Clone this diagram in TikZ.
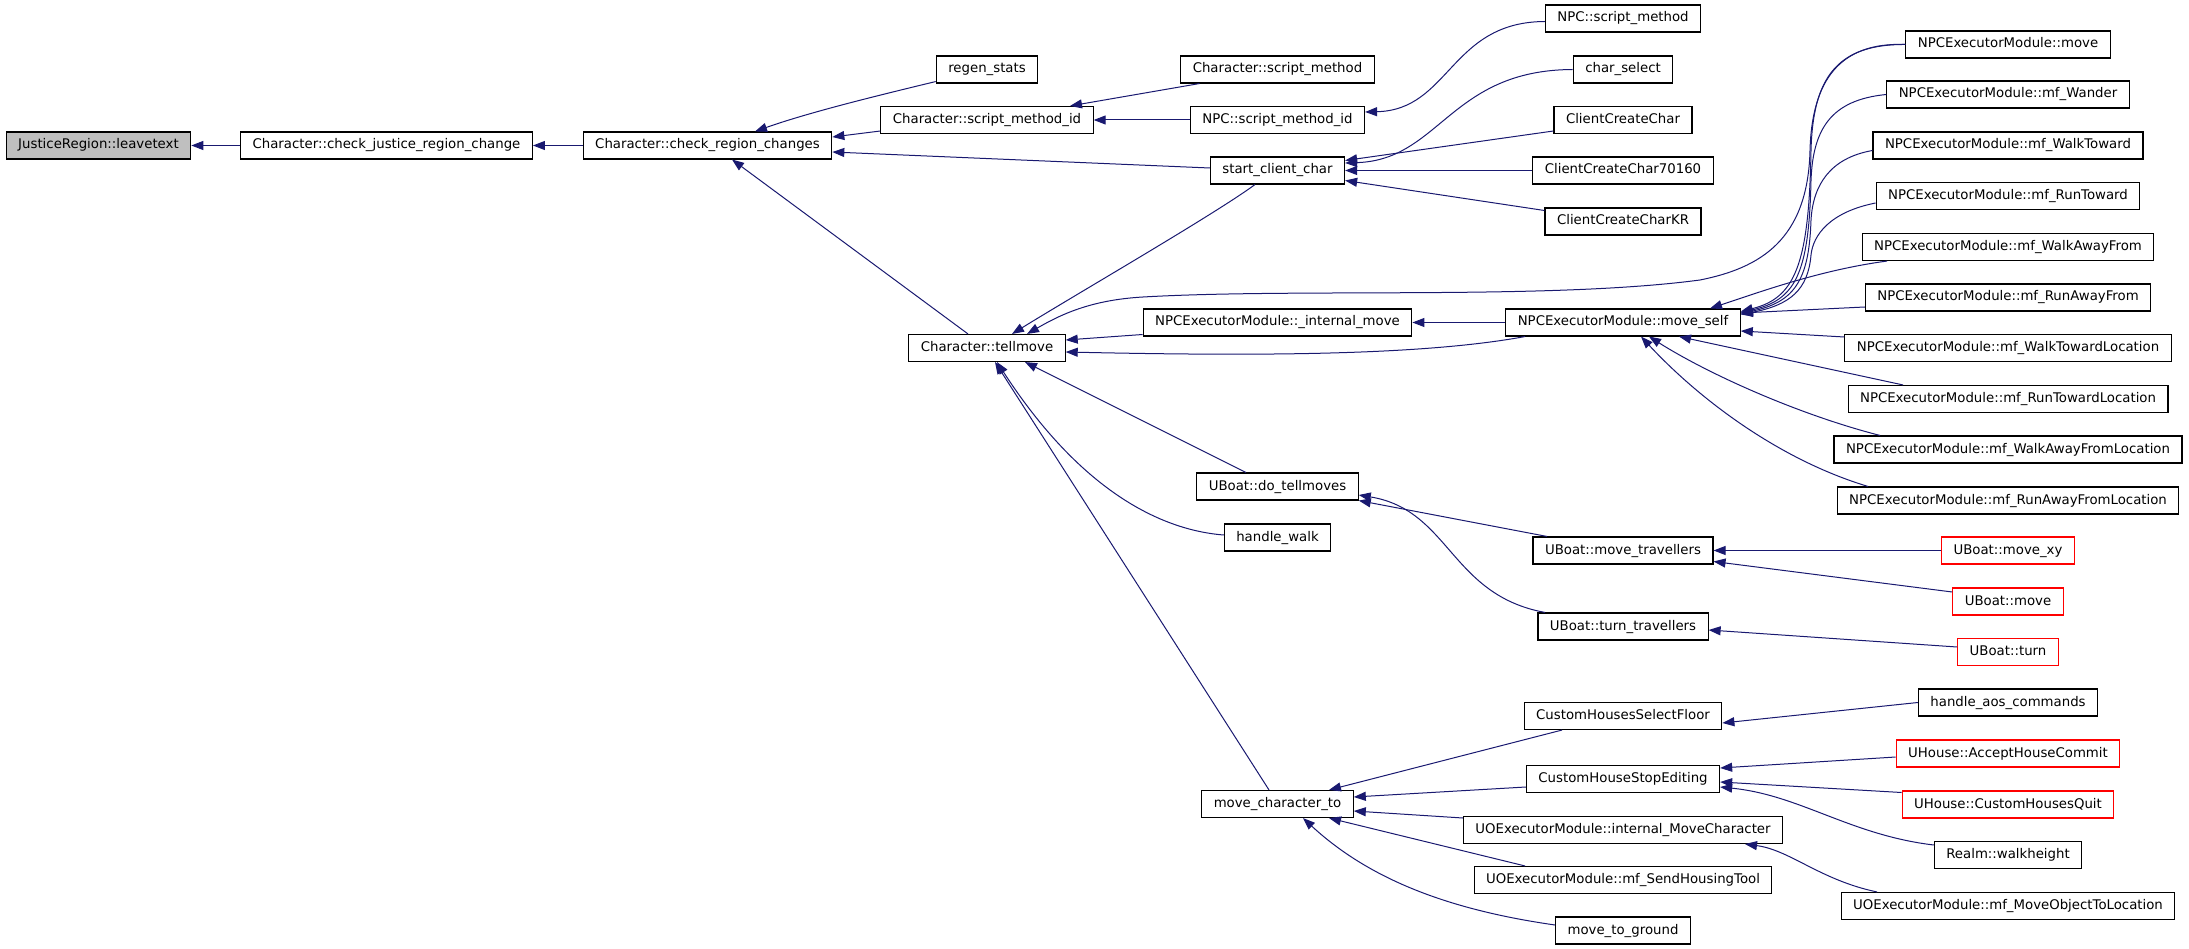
\documentclass[tikz,border=0pt]{standalone}
\usepackage{fontspec}
\setmainfont{DejaVu Sans}
\usetikzlibrary{arrows.meta}
\definecolor{edgeblue}{HTML}{191970}
\definecolor{nodegray}{HTML}{BFBFBF}
\definecolor{nodered}{HTML}{FF0000}
\tikzset{
  box/.style={draw=black, line width=1.1pt, fill=white, minimum height=27pt, inner xsep=12pt, inner ysep=0pt,
    font=\fontsize{13.3}{16}\selectfont, text height=10pt, text depth=3pt},
  redbox/.style={box, draw=nodered},
  graybox/.style={box, fill=nodegray},
  edge/.style={draw=edgeblue, line width=1pt, -{Triangle[length=12pt,width=9pt]}, fill=none}
}
\begin{document}
\begin{tikzpicture}[x=1pt,y=-1pt]
\useasboundingbox (0,0) rectangle (2189,949);
% rank 0-2
\node[graybox] (lt) at (98.5,145.5) {JusticeRegion::leavetext};
\node[box] (cjrc) at (386.5,145.5) {Character::check\_justice\_region\_change};
\node[box] (crc) at (707.5,145.5) {Character::check\_region\_changes};
% rank 3
\node[box] (rs) at (987,69.5) {regen\_stats};
\node[box] (csmi) at (987,120) {Character::script\_method\_id};
\node[box] (tm) at (987,348) {Character::tellmove};
% rank 4
\node[box] (csm) at (1277.5,69.5) {Character::script\_method};
\node[box] (nsmi) at (1277.5,120) {NPC::script\_method\_id};
\node[box] (scc) at (1277.5,170.5) {start\_client\_char};
\node[box] (im) at (1277.5,322.5) {NPCExecutorModule::\_internal\_move};
\node[box] (dt) at (1277.5,486.5) {UBoat::do\_tellmoves};
\node[box] (hw) at (1277.5,537.5) {handle\_walk};
\node[box] (mct) at (1277.5,804) {move\_character\_to};
% rank 5
\node[box] (nsm) at (1623,18.5) {NPC::script\_method};
\node[box] (cs) at (1623,69.5) {char\_select};
\node[box] (ccc) at (1623,120) {ClientCreateChar};
\node[box] (ccc7) at (1623,170.5) {ClientCreateChar70160};
\node[box] (ccckr) at (1623,221.5) {ClientCreateCharKR};
\node[box] (ms) at (1623,322.5) {NPCExecutorModule::move\_self};
\node[box] (mt) at (1623,550.5) {UBoat::move\_travellers};
\node[box] (tt) at (1623,626.5) {UBoat::turn\_travellers};
\node[box] (chsf) at (1623,716) {CustomHousesSelectFloor};
\node[box] (chse) at (1623,779) {CustomHouseStopEditing};
\node[box] (imc) at (1623,830) {UOExecutorModule::internal\_MoveCharacter};
\node[box] (sht) at (1623,880) {UOExecutorModule::mf\_SendHousingTool};
\node[box] (mtg) at (1623,930.5) {move\_to\_ground};
% rank 6
\node[box] (npcm) at (2008,44.5) {NPCExecutorModule::move};
\node[box] (wa) at (2008,94.5) {NPCExecutorModule::mf\_Wander};
\node[box] (wt) at (2008,145.5) {NPCExecutorModule::mf\_WalkToward};
\node[box] (rt) at (2008,196) {NPCExecutorModule::mf\_RunToward};
\node[box] (waf) at (2008,247) {NPCExecutorModule::mf\_WalkAwayFrom};
\node[box] (raf) at (2008,297.5) {NPCExecutorModule::mf\_RunAwayFrom};
\node[box] (wtl) at (2008,348) {NPCExecutorModule::mf\_WalkTowardLocation};
\node[box] (rtl) at (2008,399) {NPCExecutorModule::mf\_RunTowardLocation};
\node[box] (wafl) at (2008,449.5) {NPCExecutorModule::mf\_WalkAwayFromLocation};
\node[box] (rafl) at (2008,500.5) {NPCExecutorModule::mf\_RunAwayFromLocation};
\node[redbox] (mxy) at (2008,550.5) {UBoat::move\_xy};
\node[redbox] (um) at (2008,601.5) {UBoat::move};
\node[redbox] (ut) at (2008,652) {UBoat::turn};
\node[box] (hac) at (2008,702.5) {handle\_aos\_commands};
\node[redbox] (ahc) at (2008,753.5) {UHouse::AcceptHouseCommit};
\node[redbox] (chq) at (2008,804.5) {UHouse::CustomHousesQuit};
\node[box] (rw) at (2008,855) {Realm::walkheight};
\node[box] (motl) at (2008,906) {UOExecutorModule::mf\_MoveObjectToLocation};

% edges
\path[edge] (cjrc.west) -- (lt.east);
\path[edge] (crc.west) -- (cjrc.east);
\path[edge] ([yshift=2pt]rs.south west) .. controls (880,95) and (810,112) .. ([xshift=47.5pt]crc.north);
\path[edge] ([yshift=-11pt]csmi.west) -- ([yshift=8.5pt]crc.east);
\path[edge] ([yshift=2.5pt]scc.west) -- ([yshift=-6.5pt]crc.east);
\path[edge] ([xshift=-19pt]tm.north) -- ([xshift=24.5pt]crc.south);
\path[edge] ([xshift=-78pt]csm.south) -- ([xshift=83pt]csmi.north);
\path[edge] (nsmi.west) -- (csmi.east);
\path[edge] ([yshift=-3pt]nsm.west) .. controls (1450,22) and (1450,110) .. ([yshift=8pt]nsmi.east);
\path[edge] (cs.west) .. controls (1450,70) and (1440,160) .. ([yshift=7.5pt]scc.east);
\path[edge] ([yshift=-11pt]ccc.west) -- ([yshift=10pt]scc.east);
\path[edge] (ccc7.west) -- (scc.east);
\path[edge] ([yshift=11pt]ccckr.west) -- ([yshift=-10pt]scc.east);
\path[edge] ([xshift=-22.5pt]scc.south) .. controls (1215,214) and (1080,292) .. ([xshift=25pt]tm.north);
\path[edge] (npcm.west) .. controls (1840,42) and (1812,80) .. (1810,150)
   .. controls (1808,240) and (1760,268) .. (1700,280)
   .. controls (1550,300) and (1300,288) .. (1143,297)
   .. controls (1090,300) and (1060,315) .. ([xshift=40pt]tm.north);
\path[edge] ([yshift=-12pt]im.west) -- ([yshift=8pt]tm.east);
\path[edge] (ms.west) -- (im.east);
\path[edge] ([xshift=-98pt]ms.south) .. controls (1420,356) and (1250,356) .. ([yshift=-4pt]tm.east);
% into move_self
\path[edge] (npcm.west) .. controls (1835,44) and (1813,80) .. (1811,150)
   .. controls (1809,265) and (1795,298) .. ([yshift=11pt]ms.east);
\path[edge] (wa.west) .. controls (1830,100) and (1813,130) .. (1811,180)
   .. controls (1809,275) and (1795,300) .. ([yshift=10pt]ms.east);
\path[edge] ([yshift=-5pt]wt.west) .. controls (1830,158) and (1813,185) .. (1811,220)
   .. controls (1809,280) and (1795,302) .. ([yshift=9pt]ms.east);
\path[edge] ([yshift=-7pt]rt.west) .. controls (1830,212) and (1813,235) .. (1811,255)
   .. controls (1808,290) and (1790,305) .. ([yshift=8pt]ms.east);
\path[edge] ([xshift=-121pt]waf.south) .. controls (1820,270) and (1760,292) .. ([xshift=87pt]ms.north);
\path[edge] ([yshift=-9.5pt]raf.west) -- ([yshift=9.5pt]ms.east);
\path[edge] ([yshift=11pt]wtl.west) -- ([yshift=-8.5pt]ms.east);
\path[edge] ([xshift=-105pt]rtl.north) -- ([xshift=56pt]ms.south);
\path[edge] ([xshift=-128pt]wafl.north) .. controls (1800,415) and (1710,375) .. ([xshift=26pt]ms.south);
\path[edge] ([xshift=-140pt]rafl.north) .. controls (1780,460) and (1700,400) .. ([xshift=18pt]ms.south);
% lower part
\path[edge] ([xshift=-31.5pt]dt.north) -- ([xshift=38pt]tm.south);
\path[edge] ([yshift=2.5pt]hw.west) .. controls (1160,530) and (1080,490) .. ([xshift=10pt]tm.south);
\path[edge] ([xshift=-8.5pt]mct.north) -- ([xshift=8pt]tm.south);
\path[edge] ([xshift=-76pt]mt.north) -- (dt.south east);
\path[edge] ([xshift=-78pt]tt.north) .. controls (1450,595) and (1450,510) .. ([yshift=-8.5pt]dt.east);
\path[edge] (mxy.west) -- (mt.east);
\path[edge] ([yshift=9.5pt]um.west) -- ([yshift=-11pt]mt.east);
\path[edge] ([yshift=5pt]ut.west) -- ([yshift=-3.5pt]tt.east);
\path[edge] (hac.west) -- ([yshift=-7pt]chsf.east);
\path[edge] ([yshift=-3.5pt]ahc.west) -- ([yshift=11pt]chse.east);
\path[edge] ([yshift=12pt]chq.west) -- ([yshift=-3pt]chse.east);
\path[edge] ([yshift=10pt]rw.west) .. controls (1850,835) and (1800,795) .. ([yshift=-8pt]chse.east);
\path[edge] ([xshift=-131pt]motl.north) .. controls (1820,880) and (1790,850) .. ([xshift=122pt]imc.south);
\path[edge] ([xshift=-61pt]chsf.south) -- ([xshift=51.5pt]mct.north);
\path[edge] ([yshift=-8pt]chse.west) -- ([yshift=7pt]mct.east);
\path[edge] ([yshift=12pt]imc.west) -- ([yshift=-7pt]mct.east);
\path[edge] ([xshift=-98pt]sht.north) -- ([xshift=51.5pt]mct.south);
\path[edge] ([yshift=5.5pt]mtg.west) .. controls (1450,910) and (1370,880) .. ([xshift=25.5pt]mct.south);
\end{tikzpicture}
\end{document}
